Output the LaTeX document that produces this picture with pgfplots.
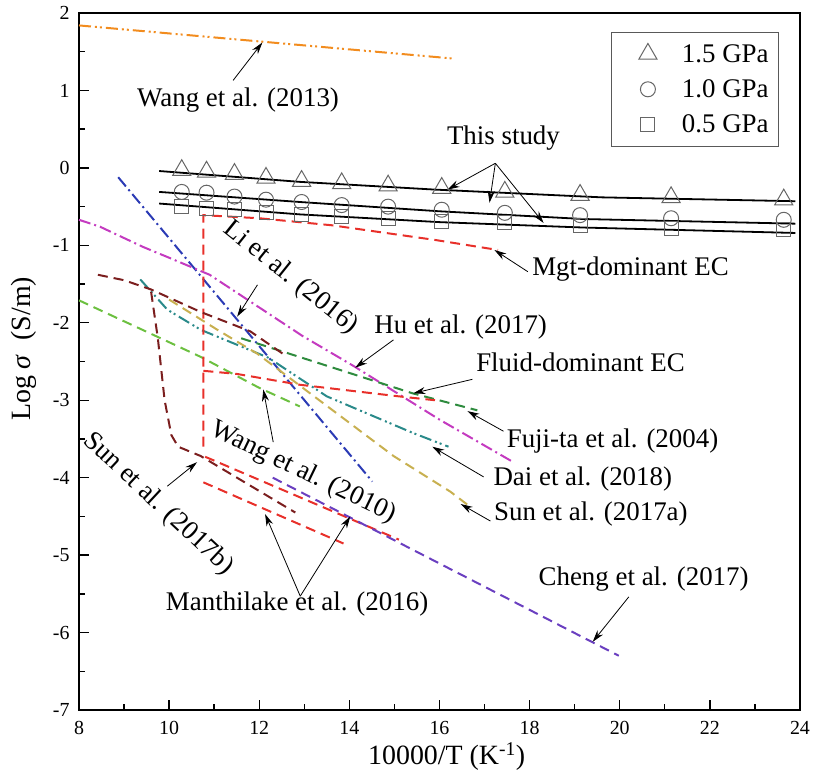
\documentclass[border=0pt]{standalone}
\usepackage{fontspec}
\setmainfont{Liberation Serif}
\usepackage{pgfplots}
\pgfplotsset{compat=1.18}
\usetikzlibrary{arrows.meta}
\definecolor{corange}{HTML}{F28C1E}
\definecolor{cred}{HTML}{E8302A}
\definecolor{cblue}{HTML}{2B3BB5}
\definecolor{cmag}{HTML}{C43BC0}
\definecolor{cbrown}{HTML}{7B1E1E}
\definecolor{cteal}{HTML}{2A8A8A}
\definecolor{colive}{HTML}{C8B050}
\definecolor{clgreen}{HTML}{6CC040}
\definecolor{cdgreen}{HTML}{2E8B3E}
\definecolor{cpurple}{HTML}{6A3FC0}
\tikzset{
  dsh/.style={line width=2bp, dash pattern=on 10bp off 6bp},
  dd/.style={line width=2bp, dash pattern=on 12bp off 4bp on 2bp off 4bp},
  ddd/.style={line width=2bp, dash pattern=on 12bp off 4bp on 2bp off 3bp on 2bp off 4bp},
  ann/.style={font=\fontsize{27}{30}\selectfont, inner sep=0pt},
  arr/.style={line width=0.8bp, -{Stealth[length=12bp,width=7bp]}},
}
\begin{document}
\begin{tikzpicture}
\path[use as bounding box] (-79bp,-64bp) rectangle (736bp,710bp);
\begin{axis}[
  x=45.06bp, y=77.44bp,
  xmin=8, xmax=24, ymin=-7, ymax=2,
  xtick={8,10,...,24}, ytick={-7,-6,...,2},
  minor x tick num=1, minor y tick num=1,
  tick align=inside, tick pos=left,
  major tick length=10bp, minor tick length=6bp,
  every tick/.style={line width=1.4bp, black},
  axis line style={line width=1.6bp},
  /pgf/number format/assume math mode=true,
  tick label style={font=\fontsize{20}{23}\selectfont},
  yticklabel style={xshift=-6bp},
  xticklabel style={yshift=-8bp},
  xlabel={10000/T (K\textsuperscript{-1})},
  ylabel={Log \textit{σ}\ \ (S/m)},
  label style={font=\fontsize{28}{32}\selectfont},
  xlabel style={at={(axis description cs:0.51,-0.0674)}, anchor=center},
  ylabel style={at={(axis description cs:-0.0763,0.518)}, anchor=center, rotate=0},
  clip=false,
  legend style={at={(rel axis cs:0.971,0.973)}, anchor=north east,
    draw=black!65, line width=0.9bp, font=\fontsize{27}{30}\selectfont,
    inner xsep=6bp, inner ysep=10bp, row sep=12bp, nodes={inner xsep=4bp, inner ysep=2bp}},
  legend cell align=left,
  legend image code/.code={\path (0bp,0bp) (60bp,0bp); \draw[#1] plot coordinates {(30bp,0bp)};},
]
% ---- this study: lines
\addplot[black, line width=1.8bp, forget plot] coordinates {(9.78,-0.04)(12.9,-0.18)(15.9,-0.28)(19.6,-0.38)(23.9,-0.43)};
\addplot[black, line width=1.8bp, forget plot] coordinates {(9.78,-0.31)(12.9,-0.44)(16,-0.56)(19.2,-0.66)(23.9,-0.72)};
\addplot[black, line width=1.8bp, forget plot] coordinates {(9.78,-0.46)(12.9,-0.6)(16,-0.7)(19.2,-0.77)(23.9,-0.84)};
% ---- this study: marks
\addplot[draw=none, mark=triangle, mark size=10.5bp, mark options={draw=black!60, line width=1bp, solid}] coordinates {
(10.28,-0.03)(10.83,-0.05)(11.45,-0.08)(12.15,-0.13)(12.94,-0.17)(13.83,-0.20)(14.86,-0.23)(16.05,-0.26)(17.45,-0.31)(19.12,-0.35)(21.14,-0.38)(23.64,-0.41)};
\addlegendentry{1.5 GPa}
\addplot[draw=none, mark=o, mark size=7.5bp, mark options={draw=black!60, line width=1bp, solid}] coordinates {
(10.28,-0.31)(10.83,-0.32)(11.45,-0.37)(12.15,-0.41)(12.94,-0.44)(13.83,-0.48)(14.86,-0.50)(16.05,-0.54)(17.45,-0.58)(19.12,-0.61)(21.14,-0.65)(23.64,-0.67)};
\addlegendentry{1.0 GPa}
\addplot[draw=none, mark=square, mark size=7bp, mark options={draw=black!60, line width=1bp, solid}] coordinates {
(10.28,-0.50)(10.83,-0.52)(11.45,-0.54)(12.15,-0.58)(12.94,-0.60)(13.83,-0.63)(14.86,-0.65)(16.05,-0.69)(17.45,-0.71)(19.12,-0.74)(21.14,-0.78)(23.64,-0.80)};
\addlegendentry{0.5 GPa}
% ---- literature
\addplot[corange, ddd, forget plot] coordinates {(8,1.84)(12.07,1.63)(16.35,1.41)};
\addplot[cblue, dd, forget plot] coordinates {(8.87,-0.12)(14.51,-4.05)};
\addplot[cmag, dd, forget plot] coordinates {(8,-0.67)(8.47,-0.76)(8.76,-0.84)(9.42,-1.02)(9.96,-1.15)(10.9,-1.38)(12.96,-2.17)(14.1,-2.56)(16.0,-3.25)(17.64,-3.8)};
\addplot[cdgreen, dsh, forget plot] coordinates {(11.6,-2.2)(13.96,-2.64)(15.4,-2.91)(16.84,-3.13)};
\addplot[clgreen, dsh, forget plot] coordinates {(8,-1.71)(10.7,-2.44)(12.0,-2.84)(12.9,-3.08)};
\addplot[cteal, ddd, forget plot] coordinates {(9.36,-1.44)(9.96,-1.83)(10.7,-2.09)(12.2,-2.45)(13.5,-2.95)(15.4,-3.42)(16.2,-3.6)};
\addplot[colive, dsh, forget plot] coordinates {(10.0,-1.7)(11.07,-2.09)(11.96,-2.4)(14.98,-3.72)(16.24,-4.18)(16.69,-4.38)};
\addplot[cred, dsh, forget plot] coordinates {(10.76,-3.6)(10.76,-0.61)(12.0,-0.65)(13.6,-0.74)(15.9,-0.93)(17.3,-1.06)};
\addplot[cred, dsh, forget plot] coordinates {(10.76,-2.62)(11.5,-2.66)(12.9,-2.8)(15.1,-2.95)(15.9,-3.0)};
\addplot[cred, dsh, forget plot] coordinates {(10.8,-3.73)(15.1,-4.8)};
\addplot[cred, dsh, forget plot] coordinates {(10.76,-4.06)(13.87,-4.85)};
\addplot[cbrown, dsh, forget plot] coordinates {(8.42,-1.38)(9.0,-1.45)(9.6,-1.57)(10.7,-1.86)(11.8,-2.11)(12.6,-2.43)};
\addplot[cbrown, dsh, forget plot] coordinates {(9.6,-1.6)(9.75,-2.2)(9.9,-3.0)(10.05,-3.45)(10.2,-3.6)(10.7,-3.72)(12.8,-4.45)};
\addplot[cpurple, dsh, forget plot] coordinates {(12.3,-4.0)(19.98,-6.3)};
% ---- annotations
\node[ann] at (axis cs:11.53,0.88) {Wang et al. (2013)};
\draw[arr] (axis cs:11.42,1.13) -- (axis cs:12.07,1.62);
\node[ann] at (axis cs:17.42,0.39) {This study};
\draw[arr] (axis cs:17.24,0.06) -- (axis cs:16.18,-0.28);
\draw[arr] (axis cs:17.24,0.06) -- (axis cs:17.11,-0.45);
\draw[arr] (axis cs:17.24,0.06) -- (axis cs:18.31,-0.71);
\node[ann] at (axis cs:20.24,-1.31) {Mgt-dominant EC};
\draw[arr] (axis cs:17.96,-1.34) -- (axis cs:17.22,-1.06);
\node[ann] at (axis cs:19.13,-2.51) {Fluid-dominant EC};
\draw[arr] (axis cs:16.73,-2.73) -- (axis cs:15.42,-2.91);
\node[ann] at (axis cs:16.47,-2.05) {Hu et al. (2017)};
\draw[arr] (axis cs:14.98,-2.22) -- (axis cs:14.13,-2.58);
\node[ann] at (axis cs:19.84,-3.53) {Fuji-ta et al. (2004)};
\draw[arr] (axis cs:17.42,-3.40) -- (axis cs:16.62,-3.14);
\node[ann] at (axis cs:19.18,-4.02) {Dai et al. (2018)};
\draw[arr] (axis cs:16.98,-3.99) -- (axis cs:15.84,-3.6);
\node[ann] at (axis cs:19.36,-4.47) {Sun et al. (2017a)};
\draw[arr] (axis cs:17.13,-4.56) -- (axis cs:16.47,-4.34);
\node[ann] at (axis cs:20.53,-5.31) {Cheng et al. (2017)};
\draw[arr] (axis cs:20.2,-5.54) -- (axis cs:19.4,-6.12);
\node[ann] at (axis cs:12.84,-5.63) {Manthilake et al. (2016)};
\draw[arr] (axis cs:12.91,-5.53) -- (axis cs:12.13,-4.47);
\draw[arr] (axis cs:12.91,-5.53) -- (axis cs:14.02,-4.5);
\node[ann, rotate=-38.7] at (axis cs:12.7,-1.42) {Li et al. (2016)};
\draw[arr] (axis cs:11.96,-1.51) -- (axis cs:11.51,-1.92);
\node[ann, rotate=-25.8] at (axis cs:12.98,-3.93) {Wang et al. (2010)};
\draw[arr] (axis cs:12.31,-3.54) -- (axis cs:12.09,-2.86);
\node[ann, rotate=-43] at (axis cs:9.76,-4.34) {Sun et al. (2017b)};
\draw[arr] (axis cs:9.96,-4.11) -- (axis cs:10.62,-3.8);
\end{axis}
\end{tikzpicture}
\end{document}
